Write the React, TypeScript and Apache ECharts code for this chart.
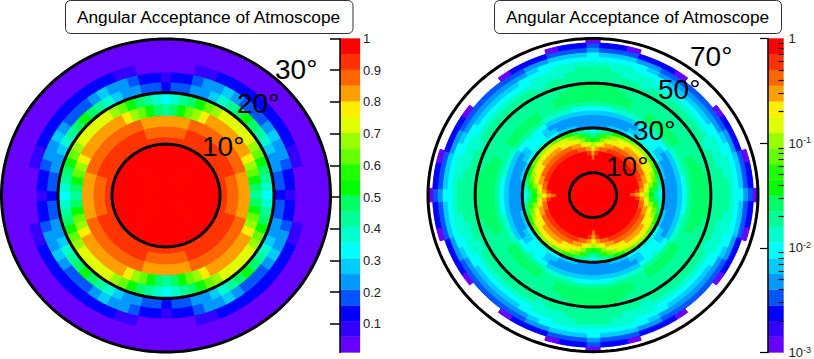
import React, { useEffect, useRef } from "react";
import * as echarts from "echarts";

const titleText = "Angular Acceptance of Atmoscope";
const palette = ["#6600ff","#3300ff","#0000ff","#0055ff","#0099ff","#00ccff","#00ffff","#00ffcc","#00ff99","#00ff66","#00ff00","#22ff00","#66ff00","#99ff00","#e0ff00","#ffee00","#ffa000","#ff6600","#ff3300","#ff0000"];

// Left panel: acceptance per ring (degrees) and per sector, folded in the octant 0..45 degrees.
const leftEdges = [0, 10, 11.25, 13.3, 15.4, 17.6, 19.8, 21.8, 23.7, 25.7, 30];
const leftRows = [
  [.98,.98,.98,.98,.98,.98,.98,.98,.98,.98],
  [.93,.93,.93,.93,.93,.93,.93,.93,.93,.93],
  [.88,.88,.88,.88,.93,.93,.93,.93,.93,.93],
  [.83,.83,.83,.83,.88,.88,.88,.88,.88,.88],
  [.43,.48,.53,.63,.68,.78,.83,.83,.83,.83],
  [.33,.38,.43,.48,.53,.63,.68,.73,.73,.73],
  [.13,.18,.18,.23,.23,.28,.38,.43,.48,.53],
  [.08,.13,.13,.18,.23,.23,.28,.23,.18,.18],
  [.035,.035,.035,.08,.08,.13,.13,.13,.13,.13],
  [.035,.035,.035,.035,.035,.035,.035,.035,.035,.035],
];
const leftCircles = [9.85, 19.7, 30];
const leftTickValues = [0.1,0.2,0.3,0.4,0.5,0.6,0.7,0.8,0.9,1];

// Right panel: same structure, log-scale values, null where there is no data.
const rightEdges = [0,16,18,20,22,24,26,28,30,32,34,36,38,40,42,44,46,48,50,52,54,56,58,60,62,64,66,68,70];
const rightRows = [
  [.84,.84,.84,.84,.84,.84,.84,.84,.84,.84],
  [.42,.84,.84,.84,.84,.84,.84,.84,.84,.84],
  [.30,.60,.84,.84,.84,.84,.84,.84,.84,.84],
  [.21,.30,.42,.42,.60,.60,.60,.60,.60,.60],
  [.11,.15,.21,.30,.30,.42,.42,.42,.42,.42],
  [.038,.053,.11,.15,.21,.21,.21,.30,.30,.30],
  [.019,.027,.053,.075,.11,.15,.15,.21,.21,.21],
  [.0094,.013,.019,.027,.038,.053,.075,.075,.11,.11],
  [.0047,.0047,.0047,.0067,.0067,.0067,.0094,.0094,.013,.013],
  [.0047,.0047,.0047,.0047,.0047,.0047,.0067,.0067,.0094,.0094],
  [.0047,.0047,.0047,.0047,.0047,.0047,.0047,.0067,.0094,.0094],
  [.0067,.0067,.0067,.0067,.0067,.0067,.0067,.0094,.0094,.013],
  [.0094,.0094,.0094,.013,.013,.013,.013,.019,.019,.019],
  [.019,.019,.019,.019,.019,.019,.019,.027,.027,.027],
  [.027,.027,.027,.027,.027,.019,.019,.027,.027,.027],
  [.027,.027,.027,.027,.027,.019,.019,.019,.019,.019],
  [.027,.027,.027,.027,.019,.019,.019,.019,.019,.019],
  [.027,.027,.027,.019,.019,.019,.019,.019,.019,.019],
  [.019,.019,.019,.019,.019,.019,.019,.019,.019,.019],
  [.019,.019,.019,.019,.019,.013,.019,.019,.019,.019],
  [.019,.019,.019,.013,.013,.013,.013,.013,.013,.013],
  [.019,.019,.013,.013,.013,.013,.0094,.0094,.0094,.0094],
  [.013,.013,.013,.013,.0094,.0094,.0094,.0067,.0067,.0067],
  [.0094,.0094,.0094,.0094,.0094,.0067,.0047,.0047,.0047,.0047],
  [.0094,.0067,.0067,.0067,.0047,.0047,.0034,.0034,.0034,.0034],
  [.0047,.0034,.0034,.0034,.0024,.0024,.0024,.0012,null,null],
  [.0034,.0024,.0024,.0012,null,null,null,null,null,null],
  [.0012,null,null,null,null,null,null,null,null,null],
];
const rightCircles = [10, 30, 50, 70];
const rightMajorTicks = [-3, -2, -1, 0];
const rightMinorTicks = [1,0.1,0.01].flatMap((d) => [2,3,4,5,6,7,8,9].map((m) => Math.log10((m * d) / 10)));

const degreeLabels = [
  { text: "30°", x: 275, y: 69 },
  { text: "20°", x: 237, y: 103 },
  { text: "10°", x: 202, y: 146 },
  { text: "70°", x: 690, y: 56 },
  { text: "50°", x: 658, y: 89 },
  { text: "30°", x: 633, y: 130 },
  { text: "10°", x: 606, y: 166 },
];

const SECTOR = 5;
const NSECT = 72;

function buildCells(edges: number[], rows: (number | null)[][]) {
  const out: number[][] = [];
  rows.forEach((row, ri) => {
    for (let s = 0; s < NSECT; s++) {
      let a = (s * SECTOR) % 90;
      if (a > 45) a = 90 - a;
      const v = row[a / SECTOR];
      if (v === null) continue;
      out.push([s * SECTOR - SECTOR / 2, s * SECTOR + SECTOR / 2, edges[ri], edges[ri + 1], v]);
    }
  });
  return out;
}

const polar = (api: any, r: number, deg: number) => {
  const t = (deg * Math.PI) / 180;
  return api.coord([r * Math.sin(t), r * Math.cos(t)]);
};

const cellRenderer = (levelOf: (v: number) => number) => (_: any, api: any) => {
  const t0 = api.value(0), t1 = api.value(1), r0 = api.value(2), r1 = api.value(3);
  const color = palette[Math.min(19, Math.max(0, levelOf(api.value(4))))];
  const pts: number[][] = [];
  for (let i = 0; i <= 4; i++) pts.push(polar(api, r1, t0 + ((t1 - t0) * i) / 4));
  for (let i = 4; i >= 0; i--) pts.push(polar(api, r0, t0 + ((t1 - t0) * i) / 4));
  return { type: "polygon", shape: { points: pts }, style: { fill: color, stroke: color, lineWidth: 1 } };
};

const circleRenderer = (_: any, api: any) => {
  const r = api.value(0);
  const pts: number[][] = [];
  for (let i = 0; i < 180; i++) pts.push(polar(api, r, i * 2));
  return { type: "polygon", shape: { points: pts }, style: { fill: "none", stroke: "#000", lineWidth: 3 } };
};

const barRenderer = (lo: number, hi: number) => (_: any, api: any) => {
  const i = api.value(0);
  const step = (hi - lo) / palette.length;
  const a = api.coord([0, lo + step * i]);
  const b = api.coord([1, lo + step * (i + 1)]);
  return {
    type: "rect",
    shape: { x: a[0], y: b[1], width: b[0] - a[0], height: a[1] - b[1] },
    style: { fill: palette[i], stroke: palette[i], lineWidth: 0.3 },
  };
};

const hiddenAxis = (gridIndex: number, min: number, max: number) => ({
  type: "value" as const, gridIndex, min, max, show: false,
});

export default function App() {
  const ref = useRef<HTMLDivElement>(null);
  useEffect(() => {
    document.body.style.margin = "0";
    const chart = echarts.init(ref.current!, undefined, { renderer: "svg" });
    const font = "'Liberation Sans', Arial, sans-serif";
    chart.setOption({
      animation: false,
      backgroundColor: "#fff",
      title: [
        { text: titleText, left: 208.5, top: 8, textAlign: "center", textStyle: { fontFamily: font, fontSize: 17.3, fontWeight: "normal", color: "#000" }, padding: 0, z: 10 },
        { text: titleText, left: 637.5, top: 8, textAlign: "center", textStyle: { fontFamily: font, fontSize: 17.3, fontWeight: "normal", color: "#000" }, padding: 0, z: 10 },
      ],
      grid: [
        { left: 1.5, top: 39, width: 329, height: 313 },
        { left: 340, top: 38.5, width: 20, height: 314 },
        { left: 428, top: 38.5, width: 330, height: 313.2 },
        { left: 768, top: 38.5, width: 21, height: 314.5 },
      ],
      xAxis: [hiddenAxis(0, -30, 30), hiddenAxis(1, 0, 1), hiddenAxis(2, -70, 70), hiddenAxis(3, 0, 1)],
      yAxis: [
        hiddenAxis(0, -30, 30),
        {
          type: "value", gridIndex: 1, min: 0.01, max: 1, position: "right", z: 10,
          axisLine: { show: true, lineStyle: { color: "#000", width: 1.5 } },
          axisTick: { show: true, inside: true, length: 10, customValues: leftTickValues, lineStyle: { color: "#000", width: 1.5 } },
          axisLabel: { customValues: leftTickValues, margin: 3, fontFamily: font, fontSize: 13, color: "#222", formatter: (v: number) => String(Math.round(v * 10) / 10) },
          splitLine: { show: false },
        },
        hiddenAxis(2, -70, 70),
        {
          type: "value", gridIndex: 3, min: -3, max: 0, position: "right", z: 10,
          axisLine: { show: true, lineStyle: { color: "#000", width: 1.5 } },
          axisTick: { show: true, inside: true, length: 8, customValues: rightMajorTicks, lineStyle: { color: "#000", width: 1.2 } },
          axisLabel: {
            customValues: rightMajorTicks, margin: 5, fontFamily: font, fontSize: 13, color: "#222",
            formatter: (v: number) => (v === 0 ? "{b|1}" : `{b|10}{s|${v}}`),
            rich: {
              b: { fontFamily: font, fontSize: 13, color: "#222" },
              s: { fontFamily: font, fontSize: 9, color: "#222", verticalAlign: "top", padding: [0, 0, 6, 0] },
            },
          },
          splitLine: { show: false },
        },
        {
          type: "value", gridIndex: 3, min: -3, max: 0, position: "right", z: 10,
          axisLine: { show: false },
          axisTick: { show: true, inside: true, length: 5, customValues: rightMinorTicks, lineStyle: { color: "#000", width: 1.2 } },
          axisLabel: { show: false },
          splitLine: { show: false },
        },
      ],
      graphic: [
        { type: "rect", z: 5, shape: { x: 65.5, y: 0.5, width: 287.5, height: 33, r: 5 }, style: { fill: "#fff", stroke: "#333", lineWidth: 1 } },
        { type: "rect", z: 5, shape: { x: 494.5, y: 0.5, width: 287, height: 33, r: 5 }, style: { fill: "#fff", stroke: "#333", lineWidth: 1 } },
        ...degreeLabels.map((d) => ({
          type: "text", z: 20, x: d.x, y: d.y,
          style: { text: d.text, fill: "#000", font: `28px ${font}`, textVerticalAlign: "middle" },
        })),
      ],
      series: [
        {
          type: "custom", xAxisIndex: 0, yAxisIndex: 0, silent: true, clip: false,
          data: buildCells(leftEdges, leftRows),
          renderItem: cellRenderer((v) => Math.floor(((v - 0.01) / 0.99) * 20)),
        },
        { type: "custom", xAxisIndex: 0, yAxisIndex: 0, silent: true, z: 4, clip: false, data: leftCircles.map((c) => [c]), renderItem: circleRenderer },
        {
          type: "custom", xAxisIndex: 2, yAxisIndex: 2, silent: true, clip: false,
          data: buildCells(rightEdges, rightRows),
          renderItem: cellRenderer((v) => Math.floor(((Math.log10(v) + 3) / 3) * 20)),
        },
        { type: "custom", xAxisIndex: 2, yAxisIndex: 2, silent: true, z: 4, clip: false, data: rightCircles.map((c) => [c]), renderItem: circleRenderer },
        { type: "custom", xAxisIndex: 1, yAxisIndex: 1, silent: true, data: palette.map((_, i) => [i]), renderItem: barRenderer(0.01, 1) },
        { type: "custom", xAxisIndex: 3, yAxisIndex: 3, silent: true, data: palette.map((_, i) => [i]), renderItem: barRenderer(-3, 0) },
      ],
    });
    return () => chart.dispose();
  }, []);
  return <div ref={ref} style={{ width: 814, height: 359 }} />;
}
